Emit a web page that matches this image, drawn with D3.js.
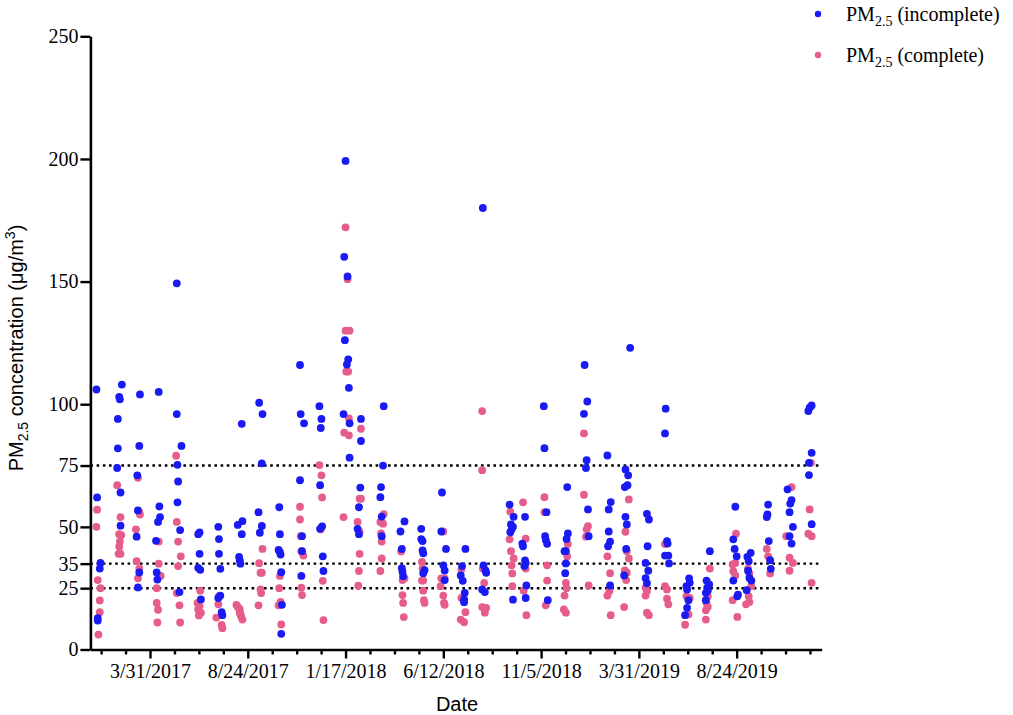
<!DOCTYPE html>
<html>
<head>
<meta charset="utf-8">
<script src="https://cdn.jsdelivr.net/npm/d3@7"></script>
<style>
  body { margin: 0; background: #fff; }
  svg { display: block; }
</style>
</head>
<body>
<div id="chart"></div>
<script>
// day offsets from 1/1/2017, PM2.5 value
const startDate = Date.UTC(2017, 0, 1);

const incomplete = [
  [9,106],[10,62],[15,35.3],[14,33],[11,12.8],[11,11.8],
  [47,108],[43,103],[44,102],[41,94],[41,82],[40,74],[45,64],[45,50.5],
  [74,104],[73,83],[70,71],[71,56.7],[69,46],[73,31.4],[71,25.3],
  [102,105],[103,58.3],[104,54],[101,52],[98,44.3],[99,31.4],[100,28.5],
  [129,149.3],[129,96],[136,83],[130,75.3],[131,68.5],[130,60],[134,48.7],[133,23.4],
  [163,47.7],[161,47],[163,39],[161,33.3],[164,32.5],[165,20.4],
  [191,50],[192,45],[192,39],[194,32.9],[191,21],[194,22],[196,15.2],[197,14],
  [226,92],[227,52.3],[220,50.8],[226,47],[222,37.8],[223,36.4],[224,35],
  [252,100.6],[257,96],[256,75.9],[251,56],[256,50.4],[253,47.6],
  [282,58],[283,47],[281,40.6],[283,39.7],[284,38.7],[285,31.5],[286,18.2],[285,6.4],
  [313,116],[314,96],[319,92.2],[313,69],[316,46.2],[316,40.1],[315,30],
  [342,99.2],[345,94],[344,90.3],[343,67],[346,50.2],[343,49.2],[347,38],[348,32],
  [381,199.2],[379,160.1],[384,152.1],[380,126.1],[385,118.3],[383,116.2],[386,106.7],[378,96],[387,92.2],[387,78.2],
  [404,94],[404,85],[403,66],[401,58],[399,49.2],[401,47],
  [438,99.2],[437,75],[434,66.2],[433,62.1],[435,54.2],[435,46.2],
  [469,52.2],[463,48.1],[465,41],[465,33.2],[466,31.7],[467,29.9],
  [494,49.2],[494,45],[496,44.2],[496,40.4],[497,39.2],[499,32.4],[497,31.1],
  [525,64],[524,48.1],[531,41],[527,34.3],[529,32.2],[529,28.3],
  [560,41],[555,34],[553,30.2],[556,28],[559,23.1],[558,20.4],[558,19.3],
  [586,180],[587,34.3],[590,32.2],[591,31.3],[585,24.5],[589,23.4],
  [626,59.1],[632,54.1],[628,51],[631,50],[627,47.8],[629,49],[631,20.3],
  [649,54.1],[645,43.2],[646,42.1],[649,36.3],[650,35.3],[648,34],[651,26.1],[650,21],
  [677,99.2],[678,82.1],[681,56],[679,46.2],[680,44.6],[682,43.1],[683,20.1],
  [712,66.2],[713,47.3],[711,45.1],[708,40.1],[710,40.1],[710,35.1],[709,31.1],
  [738,116],[742,101.1],[737,96.1],[741,77.2],[740,74],[743,57.1],[744,46.2],
  [772,79.1],[777,60.1],[774,57.1],[774,48.1],[776,44],[773,42.1],[776,26.1],
  [806,123],[799,73.4],[803,71],[802,67],[798,66.2],[799,54.1],[801,51],[800,41],[797,30.2],
  [831,55.3],[834,53],[832,42.1],[829,35.3],[833,32.1],[829,29.1],[831,27],
  [859,98.2],[858,88.1],[861,44.2],[862,43.2],[858,38.3],[863,38.3],[864,35.1],
  [894,29],[895,27.2],[890,25.8],[891,24.5],[893,20.1],[891,17],[888,14],
  [925,40.1],[920,28.1],[924,26.5],[921,25.2],[922,24.1],[919,23.1],[919,20.1],
  [963,58.2],[960,44.9],[962,41],[965,38],[960,28.1],[966,21.7],[967,22.4],
  [986,39.4],[981,37.8],[983,36],[982,32.1],[984,29.2],[987,28.1],[980,24.2],
  [1012,59.1],[1011,55.1],[1010,54],[1013,44.2],[1015,36.4],[1016,32.9],
  [1041,65.3],[1047,60.9],[1045,59.5],[1044,56],[1049,50],[1044,46.2],[1047,43.2],
  [1072,97.2],[1074,98.6],[1077,99.5],[1077,80.2],[1073,76.1],[1073,71.1],[1077,51.1]
];

const complete = [
  [10,57],[9,50],[11,28.3],[15,25],[14,20],[14,15.2],[12,6.1],
  [40,67],[45,54],[43,47],[46,46.6],[44,44],[43,42],[42,39],[45,39],
  [71,70],[73,56],[74,55],[68,49],[69,36],[73,33],[71,29],
  [102,44],[102,35],[105,30],[99,25],[99,19],[101,16.2],[100,11],
  [128,79],[129,52],[131,44],[135,38],[131,34],[129,23],[133,18],[134,11],
  [164,24],[160,19],[163,17.7],[161,16.3],[165,15],[162,13.9],
  [192,21.7],[191,18.4],[188,13],[196,10],[197,8.7],
  [218,18.2],[220,17.4],[223,16.3],[223,15],[225,13.6],[227,12.2],[221,17],[224,14.5],
  [257,41],[252,35.2],[254,31.3],[256,31.3],[254,24.5],[255,23],[251,18],
  [283,30],[282,25],[284,19.4],[281,18],[285,10.2],
  [313,58.2],[313,53],[314,46.2],[315,40.1],[318,38.3],[315,25.2],[316,22.2],
  [342,75.2],[345,71],[346,62],[344,49],[347,28],[348,12],
  [381,172.1],[384,151],[381,130],[387,130],[382,113.3],[385,113.3],[386,94.2],[379,88.4],[386,87.3],[378,54],
  [404,90],[404,61.5],[402,61.5],[399,52],[402,48],[402,39],[401,32],[400,26],
  [438,55.2],[433,52],[437,51.3],[434,47.3],[435,44],[435,37.1],[433,32],
  [464,40],[466,28.3],[469,29],[466,22.2],[467,19],[468,13.2],
  [495,35.7],[496,33],[495,28.1],[497,28.1],[497,24],[498,20.1],[499,19],
  [527,48.1],[524,29],[529,29],[523,25.8],[527,22],[528,19],[529,18.2],
  [554,32.6],[554,21],[560,15.2],[553,12.2],[558,11.1],
  [585,97.2],[585,73.1],[586,33],[588,27.2],[585,17.3],[591,17],[589,15],
  [627,56.2],[626,44.9],[628,40.1],[632,37.1],[629,34.3],[630,31],[630,25.8],
  [646,60],[650,45.2],[650,33],[647,24],[651,14],
  [678,62.1],[678,56],[682,34.3],[682,28.1],[680,18],
  [713,43],[712,38],[710,27.2],[711,25],[708,22],[707,16.3],[710,15],
  [737,88.1],[737,63.1],[743,50.3],[741,49],[740,46],[744,26.1],
  [772,38],[776,31.1],[775,23.8],[772,22],[777,14],
  [804,61.2],[799,48],[801,40.1],[804,37.1],[798,32.2],[801,31.3],[800,28.3],[797,17.3],
  [829,25.2],[831,23.8],[829,22],[831,15],[834,14],
  [858,43],[858,25.8],[861,24.5],[861,20.7],[863,18.4],
  [890,21.7],[895,21],[893,14.3],[888,10.1],
  [925,33],[922,21.7],[920,19],[922,17.4],[919,16],[919,12.2],
  [964,47.2],[963,35.3],[959,34.7],[960,31.9],[963,30.2],[959,20.1],[966,13.3],
  [982,33],[984,31],[987,25.8],[983,21.7],[984,19.4],[979,18.4],
  [1010,41],[1012,38],[1015,31],
  [1047,66.2],[1039,46.2],[1044,37.4],[1049,35.3],[1044,32.1],
  [1076,76.1],[1074,57.1],[1072,47.2],[1077,46.2],[1077,27.2]
];

const xTickDates = ["2017-03-31", "2017-08-24", "2018-01-17", "2018-06-12", "2018-11-05", "2019-03-31", "2019-08-24"];
const yTickValues = [0, 25, 35, 50, 75, 100, 150, 200, 250];
const refLines = [25, 35, 75];
const seriesNames = ["incomplete", "complete"];

const width = 1013, height = 715;
const blue = "#1a1af2", pink = "#e65d8c";
const dayMs = 864e5;
const toDate = d => new Date(startDate + d * dayMs);

const svg = d3.select("#chart").append("svg")
  .attr("width", width)
  .attr("height", height);

const x = d3.scaleUtc()
  .domain([toDate(0), toDate(1092)])
  .range([90.4, 821.7]);

const y = d3.scaleLinear()
  .domain([0, 250])
  .range([649.5, 36.3]);

// dotted reference lines
svg.selectAll(".ref")
  .data(refLines)
  .enter().append("line")
  .attr("x1", x.range()[0])
  .attr("x2", x.range()[1])
  .attr("y1", d => y(d))
  .attr("y2", d => y(d))
  .attr("stroke", "#000")
  .attr("stroke-width", 2.4)
  .attr("stroke-dasharray", "2.6,3.6");

// points: complete first, incomplete on top
svg.append("g").selectAll("circle")
  .data(complete)
  .enter().append("circle")
  .attr("cx", d => x(toDate(d[0])))
  .attr("cy", d => y(d[1]))
  .attr("r", 3.9)
  .attr("fill", pink);

svg.append("g").selectAll("circle")
  .data(incomplete)
  .enter().append("circle")
  .attr("cx", d => x(toDate(d[0])))
  .attr("cy", d => y(d[1]))
  .attr("r", 3.9)
  .attr("fill", blue);

// x axis, major + minor ticks
const majorDates = xTickDates.map(s => new Date(s + "T00:00:00Z"));
const minorDates = [];
for (let k = -2; k <= 30; k++) {
  const d = 89 + k * 36.5;
  if (d > 0 && d <= 1092 && k % 4 !== 0) minorDates.push(toDate(d));
}

const fmt = d3.utcFormat("%-m/%-d/%Y");

svg.append("g")
  .attr("transform", "translate(0," + y(0) + ")")
  .call(d3.axisBottom(x).tickValues(minorDates).tickSize(5).tickSizeOuter(0).tickFormat(""))
  .call(g => g.select(".domain").remove())
  .call(g => g.selectAll("line").attr("stroke-width", 2.4));

const xAxis = svg.append("g")
  .attr("transform", "translate(0," + y(0) + ")")
  .call(d3.axisBottom(x).tickValues(majorDates).tickSize(9).tickSizeOuter(0).tickPadding(5).tickFormat(fmt));

xAxis.select(".domain").attr("stroke-width", 2.6);
xAxis.selectAll("line").attr("stroke-width", 2.4);
xAxis.selectAll("text")
  .style("font-family", "'Liberation Serif', 'Times New Roman', serif")
  .style("font-size", "20px")
  .attr("fill", "#000");

// y axis
const yAxis = svg.append("g")
  .attr("transform", "translate(" + x.range()[0] + ",0)")
  .call(d3.axisLeft(y).tickValues(yTickValues).tickSize(10).tickSizeOuter(0).tickPadding(2));

yAxis.select(".domain").attr("stroke-width", 2.6);
yAxis.selectAll("line").attr("stroke-width", 2.4);
yAxis.selectAll("text")
  .style("font-family", "'Liberation Serif', 'Times New Roman', serif")
  .style("font-size", "20px")
  .attr("fill", "#000");

// axis titles
svg.append("text")
  .attr("x", 457)
  .attr("y", 711)
  .attr("text-anchor", "middle")
  .style("font-family", "'Liberation Sans', Arial, sans-serif")
  .style("font-size", "20px")
  .text("Date");

const yTitle = svg.append("text")
  .attr("transform", "translate(23,348) rotate(-90)")
  .attr("text-anchor", "middle")
  .style("font-family", "'Liberation Sans', Arial, sans-serif")
  .style("font-size", "20px");
yTitle.append("tspan").text("PM");
yTitle.append("tspan").attr("dy", 5).style("font-size", "14px").text("2.5");
yTitle.append("tspan").attr("dy", -5).text(" concentration (μg/m");
yTitle.append("tspan").attr("dy", -8).style("font-size", "14px").text("3");
yTitle.append("tspan").attr("dy", 8).text(")");

// legend
const legend = svg.append("g")
  .selectAll("g")
  .data(seriesNames)
  .enter().append("g")
  .attr("transform", (d, i) => "translate(818," + (14 + i * 41) + ")");

legend.append("circle")
  .attr("r", 3.2)
  .attr("fill", (d, i) => i === 0 ? blue : pink);

const legendText = legend.append("text")
  .attr("x", 28)
  .attr("y", 7)
  .style("font-family", "'Liberation Serif', 'Times New Roman', serif")
  .style("font-size", "20px");
legendText.append("tspan").text("PM");
legendText.append("tspan").attr("dy", 5).style("font-size", "14px").text("2.5");
legendText.append("tspan").attr("dy", -5).text(d => " (" + d + ")");
</script>
</body>
</html>
